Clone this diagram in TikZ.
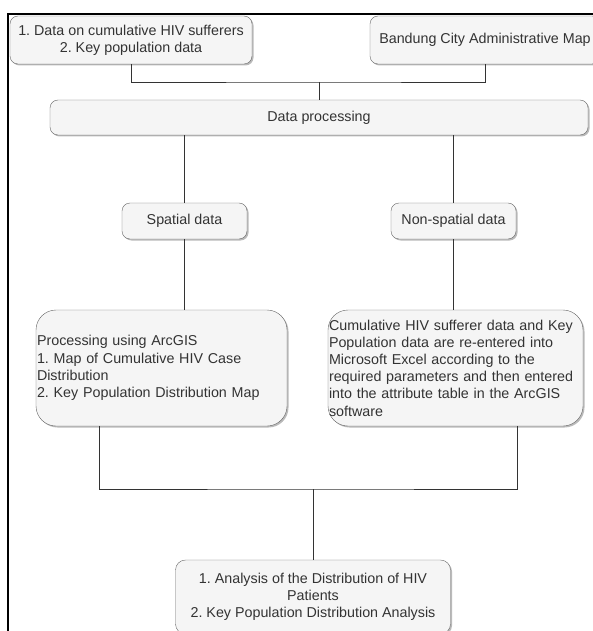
\documentclass[tikz,border=0pt]{standalone}
\usepackage{fontspec}
\setmainfont{Liberation Sans}
\usetikzlibrary{shadows}
\definecolor{boxfill}{HTML}{F5F5F5}
\definecolor{boxline}{HTML}{666666}
\definecolor{boxtext}{HTML}{333333}
\begin{document}
\begin{tikzpicture}[x=1pt,y=-1pt,
    flowbox/.style={draw=boxline, fill=boxfill, rounded corners=8pt, text=boxtext, align=center, inner sep=1pt,
      drop shadow={shadow xshift=1.5pt, shadow yshift=-1.5pt, fill=black!45, opacity=0.6},
      font=\fontsize{14.3}{17.2}\selectfont\frenchspacing},
    link/.style={draw=black!80, line width=0.9pt}]
    \useasboundingbox (0,0) rectangle (593,631);
    \clip (0,0) rectangle (593,631);
    % frame
    \draw [line width=2pt] (8,631) -- (8,14) -- (593,14);

    % input data
    \node [flowbox, minimum width=242pt, minimum height=48pt, name=data] at (131,40) {1. Data on cumulative HIV sufferers\\2. Key population data};
    \node [flowbox, minimum width=230pt, minimum height=48pt, name=map] at (485,40) {Bandung City Administrative Map};
    \coordinate (top) at (319,82);
    \draw [link] (data) |- (top) -| (map);

    % processing
    \node [flowbox, minimum width=538pt, minimum height=35pt, name=proc] at (319,117.5) {Data processing};
    \draw [link] (top) -- (proc);

    % spatial / non-spatial
    \node [flowbox, minimum width=125pt, minimum height=36pt, name=spatial] at (184.5,221) {Spatial data};
    \node [flowbox, minimum width=125pt, minimum height=36pt, name=nonspatial] at (453.5,221) {Non-spatial data};
    \draw [link] (proc.south -| spatial) -- (spatial);
    \draw [link] (proc.south -| nonspatial) -- (nonspatial);

    \node [flowbox, rounded corners=20pt, align=left, text width=249pt, minimum height=116pt, name=arcgis] at (161.5,368) {Processing using ArcGIS\\1. Map of Cumulative HIV Case\\Distribution\\2. Key Population Distribution Map};
    \node [flowbox, rounded corners=20pt, align=left, text width=253pt, minimum height=116pt, name=excel] at (455.5,368) {Cumulative HIV sufferer data and Key\\Population data are re-entered into\\Microsoft Excel according to the\\required parameters and then entered\\into the attribute table in the ArcGIS\\software};
    \draw [link] (spatial) -- (spatial |- arcgis.north);
    \draw [link] (nonspatial) -- (nonspatial |- excel.north);

    % analysis
    \coordinate (bottom) at (313,489);
    \draw [link] ([xshift=-62pt]arcgis.south) |- (bottom) -| ([xshift=62pt]excel.south);
    \node [flowbox, rounded corners=10pt, minimum width=275pt, minimum height=74pt, name=result] at (313,597) {1. Analysis of the Distribution of HIV\\Patients\\2. Key Population Distribution Analysis};
    \draw [link] (bottom) -- (result);
\end{tikzpicture}
\end{document}
